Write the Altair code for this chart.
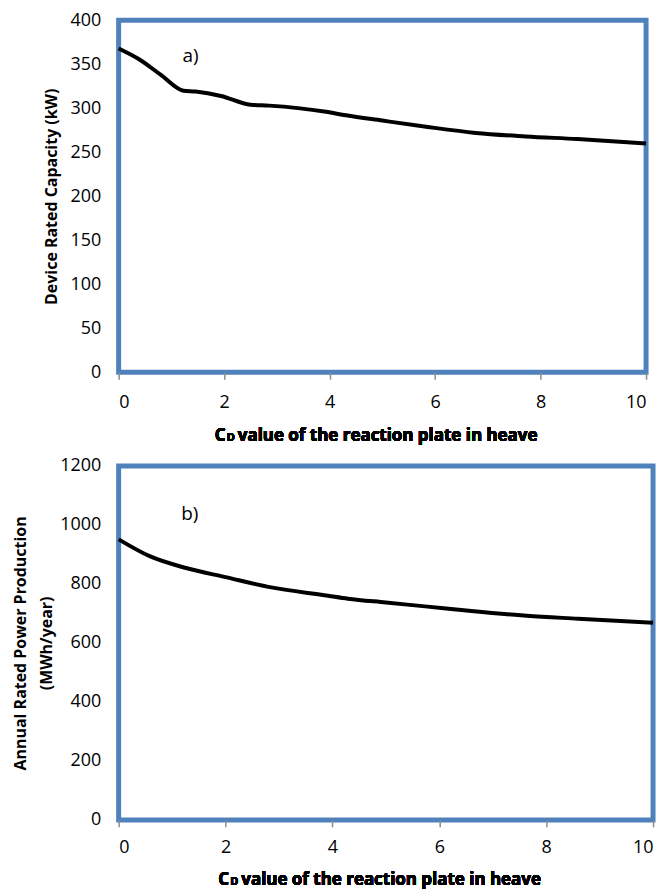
import altair as alt
import pandas as pd

# Panel a) device rated capacity vs. heave drag coefficient
cd_a = [0, 0.38, 0.8, 1.23, 1.46, 1.94, 2.5, 2.85, 3.93, 4.31, 5.0, 5.83, 6.77, 7.72, 8.7, 10]
capacity_kw = [368, 356, 338, 320, 319, 314, 304, 303, 296, 292, 286, 279, 272, 268, 265, 260]

# Panel b) annual rated power production vs. heave drag coefficient
cd_b = [0, 0.58, 1.26, 2.0, 2.8, 3.92, 4.29, 5.0, 5.78, 6.6, 7.64, 8.6, 10]
production_mwh = [951, 894, 854, 823, 790, 760, 750, 737, 723, 708, 692, 682, 668]

x_ticks = [0, 2, 4, 6, 8, 10]

FONT = "Open Sans"
BORDER = "#4F81BD"
TICK_GREY = "#8C8C8C"


def panel(xs, ys, ymax, ystep, ytitle, title_pad, tag, tag_x, tag_y, w, h, xtitle_dy, label_pad):
    df = pd.DataFrame({"cd": xs, "val": ys})
    x_enc = alt.X(
        "cd:Q",
        scale=alt.Scale(domain=[0, 10], nice=False, zero=False),
        axis=alt.Axis(
            values=x_ticks, title=None, grid=False, domain=False,
            ticks=True, tickColor=TICK_GREY, tickSize=7, tickWidth=1.5,
            labelFontSize=18, labelPadding=label_pad, labelColor="black", labelFont=FONT,
        ),
    )
    y_enc = alt.Y(
        "val:Q",
        scale=alt.Scale(domain=[0, ymax], nice=False),
        axis=alt.Axis(
            values=list(range(0, ymax + 1, ystep)), format="d", title=ytitle, grid=False,
            domain=False, ticks=False, labelFontSize=18, labelPadding=18,
            labelColor="black", labelFont=FONT,
            titleFontSize=16, titleFontWeight="bold", titleFont=FONT,
            titleColor="black", titlePadding=title_pad, titleLineHeight=26,
        ),
    )
    line = alt.Chart(df).mark_line(
        color="black", strokeWidth=4, interpolate="monotone"
    ).encode(x=x_enc, y=y_enc)

    label = alt.Chart(pd.DataFrame({"cd": [tag_x], "val": [tag_y], "t": [tag]})).mark_text(
        fontSize=19, font=FONT, align="left", baseline="middle", color="black"
    ).encode(x="cd:Q", y="val:Q", text="t:N")

    # x-axis title: "C" with a smaller "D" for the drag coefficient symbol
    ty = h + xtitle_dy
    x0 = w / 2 - 168
    c_txt = alt.Chart(df).mark_text(
        text="C", fontSize=17, fontWeight="bold", font=FONT, align="left",
        baseline="middle", color="black"
    ).encode(x=alt.value(x0), y=alt.value(ty))
    d_txt = alt.Chart(df).mark_text(
        text="D", fontSize=11, fontWeight="bold", font=FONT, align="left",
        baseline="middle", color="black"
    ).encode(x=alt.value(x0 + 12), y=alt.value(ty + 2))
    rest_txt = alt.Chart(df).mark_text(
        text="value of the reaction plate in heave", fontSize=17, fontWeight="bold",
        font=FONT, align="left", baseline="middle", color="black"
    ).encode(x=alt.value(x0 + 23), y=alt.value(ty))

    return alt.layer(line, label, c_txt, d_txt, rest_txt).properties(width=w, height=h)


top = panel(
    cd_a, capacity_kw, 400, 50, "Device Rated Capacity (kW)", 10,
    "a)", 1.21, 359, 529, 353, 64, 14,
)
bottom = panel(
    cd_b, production_mwh, 1200, 200,
    ["Annual Rated Power Production", "(MWh/year)"], 5,
    "b)", 1.17, 1038, 536, 355, 60, 12,
)

chart = alt.vconcat(top, bottom, spacing=7).properties(
    padding={"top": 7, "left": 10, "right": 4, "bottom": 2},
    background="white",
).configure_view(
    stroke=BORDER, strokeWidth=5
)

chart.save("out.html", embed_options={"renderer": "svg", "actions": False})
